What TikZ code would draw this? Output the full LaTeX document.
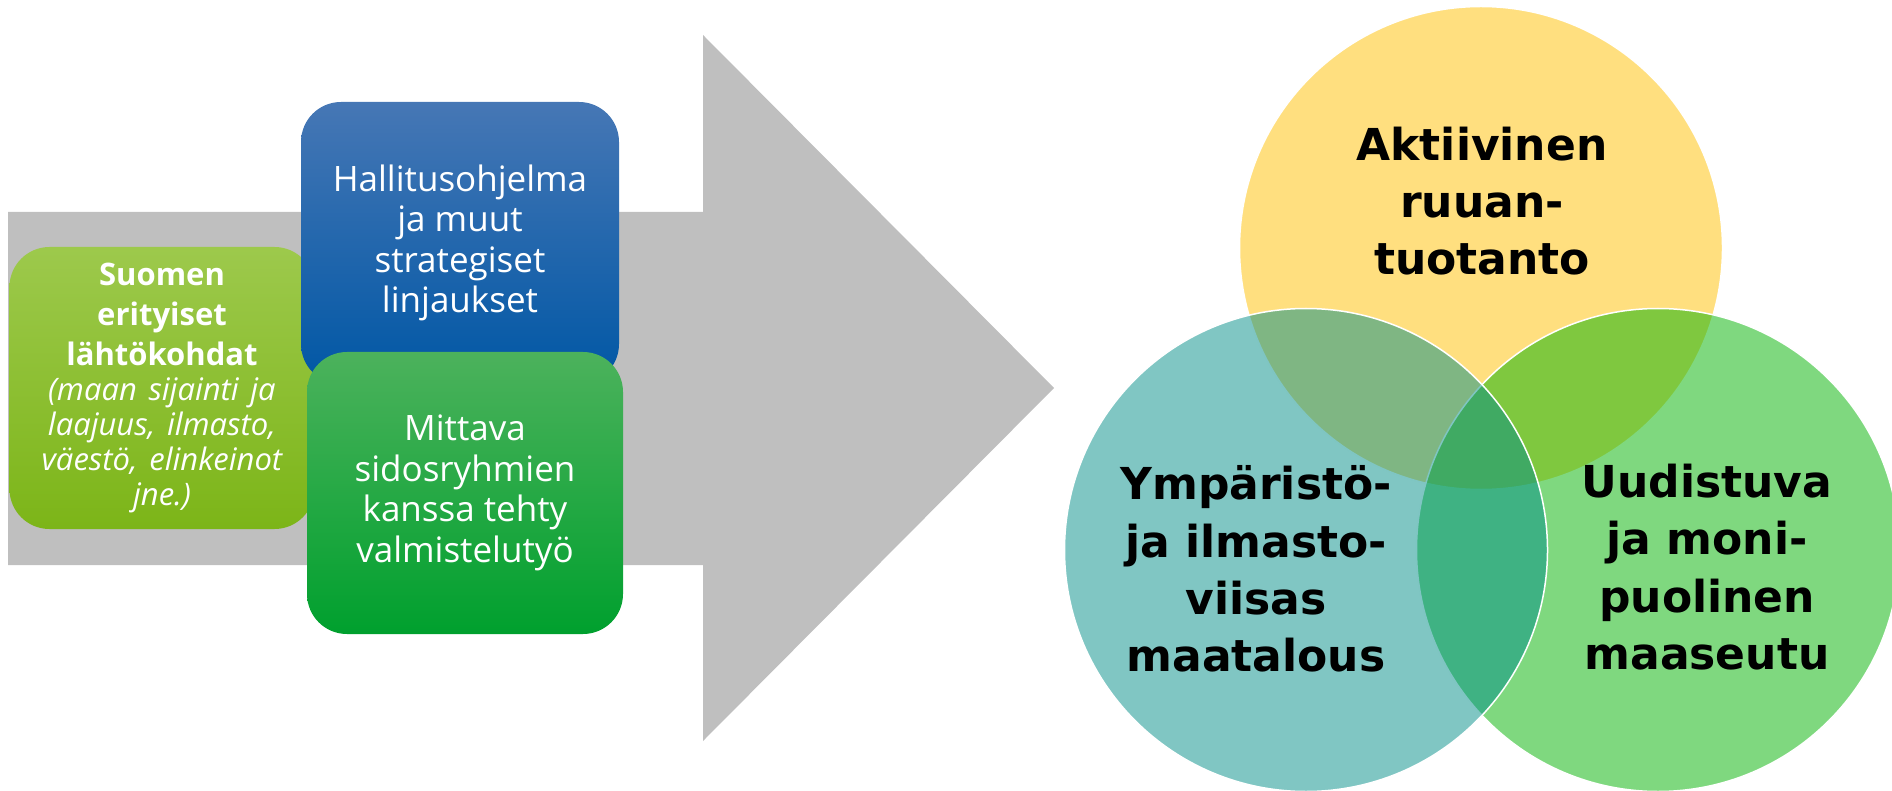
\documentclass[tikz,border=0pt]{standalone}
\usepackage{fontspec}
\setmainfont{Open Sans}
\newfontfamily\themefont{DejaVu Sans}

\definecolor{arrowgray}{HTML}{BFBFBF}
\definecolor{limetop}{HTML}{9DC94C}
\definecolor{limebot}{HTML}{7CB518}
\definecolor{bluetop}{HTML}{4677B5}
\definecolor{bluebot}{HTML}{0057A5}
\definecolor{greentop}{HTML}{4CB25C}
\definecolor{greenbot}{HTML}{00A02E}
\definecolor{foodyellow}{HTML}{FFC000}
\definecolor{ruralgreen}{HTML}{00B200}
\definecolor{climateteal}{HTML}{018D87}

\tikzset{
  box/.style={rounded corners=40pt, inner sep=0pt, text=white, align=center,
    minimum height=282pt, font=\fontsize{35}{40.5}\selectfont},
  theme/.style={circle, minimum size=483pt, inner sep=0pt, draw=white,
    line width=1.5pt, fill opacity=0.5},
  themetext/.style={align=center, font=\themefont\bfseries\fontsize{44}{57.3}\selectfont}
}

\begin{document}
\begin{tikzpicture}[x=1pt,y=-1pt]
\useasboundingbox (0,0) rectangle (1892,791);

% big arrow
\fill[arrowgray] (8,212) -- (703,212) -- (703,35) -- (1054,388)
  -- (703,741) -- (703,565) -- (8,565) -- cycle;

% boxes on the arrow
\node[box, minimum width=305pt, text width=305pt, top color=limetop, bottom color=limebot]
  (origin) at (162,388)
  {{\bfseries\fontsize{31}{40}\selectfont Suomen\\erityiset\\lähtökohdat\par}%
   {\itshape\fontsize{31}{35}\selectfont (maan sijainti ja\\laajuus, ilmasto,\\väestö, elinkeinot\\jne.)\par}};
\node[box, minimum width=318pt, top color=bluetop, bottom color=bluebot]
  (program) at (460,243) {Hallitusohjelma\\ja muut\\strategiset\\linjaukset};
\node[box, minimum width=316pt, top color=greentop, bottom color=greenbot]
  (stakeholders) at (465,493) {Mittava\\sidosryhmien\\kanssa tehty\\valmistelutyö};

% the three themes
\node[theme, fill=foodyellow] (food) at (1481,248) {};
\node[theme, fill=ruralgreen] (rural) at (1658,550) {};
\node[theme, fill=climateteal] (climate) at (1306,550) {};

\node[themetext] (food-txt) at (1482,201) {Aktiivinen\\ruuan-\\tuotanto};
\node[themetext] (climate-txt) at (1256,569) {Ympäristö-\\ja ilmasto-\\viisas\\maatalous};
\node[themetext] (rural-txt) at (1707,567) {Uudistuva\\ja moni-\\puolinen\\maaseutu};
\end{tikzpicture}
\end{document}
